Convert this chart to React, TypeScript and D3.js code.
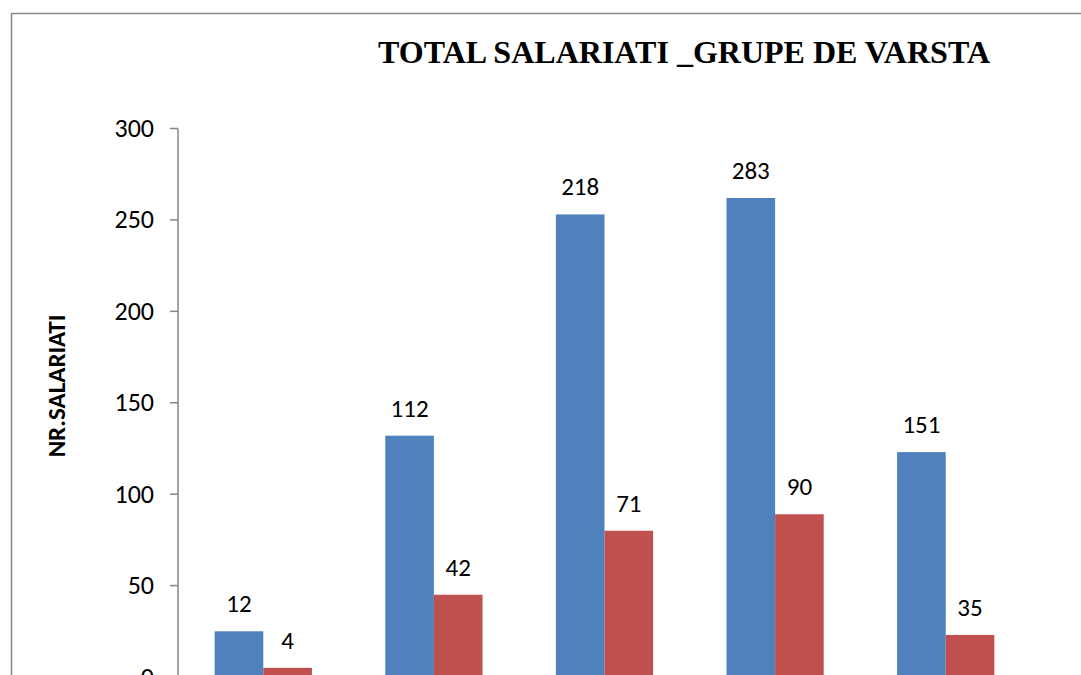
import React from 'react';
import { scaleLinear, scaleBand } from 'd3';

const CATEGORIES = ['G1', 'G2', 'G3', 'G4', 'G5'];
// bar heights as drawn in the original chart
const BLUE_HEIGHTS = [25, 132, 253, 262, 123];
const RED_HEIGHTS = [5, 45, 80, 89, 23];
// data labels shown above the bars
const BLUE_LABELS = [12, 112, 218, 283, 151];
const RED_LABELS = [4, 42, 71, 90, 35];
const TICKS = [0, 50, 100, 150, 200, 250, 300];

const BLUE = '#4F81BD';
const RED = '#C0504D';

export default function App() {
  const width = 1081;
  const height = 675;
  const left = 178;
  const right = 1031;
  const y = scaleLinear().domain([0, 300]).range([677, 128.5]);
  const x = scaleBand().domain(CATEGORIES).range([left, right]).paddingInner(0.43).paddingOuter(0.215);
  const barW = x.bandwidth() / 2;
  const font = 'Carlito, "Open Sans", "Liberation Sans", sans-serif';

  const bars = CATEGORIES.map((c, i) => {
    const x0 = x(c) as number;
    return (
      <g key={c}>
        <rect x={x0} y={y(BLUE_HEIGHTS[i])} width={barW} height={y(0) - y(BLUE_HEIGHTS[i])} fill={BLUE} />
        <rect x={x0 + barW} y={y(RED_HEIGHTS[i])} width={barW} height={y(0) - y(RED_HEIGHTS[i])} fill={RED} />
        <text x={x0 + barW / 2} y={y(BLUE_HEIGHTS[i]) - 19} textAnchor="middle" fontSize={25} fontFamily={font}>{BLUE_LABELS[i]}</text>
        <text x={x0 + barW * 1.5} y={y(RED_HEIGHTS[i]) - 19} textAnchor="middle" fontSize={25} fontFamily={font}>{RED_LABELS[i]}</text>
      </g>
    );
  });

  return (
    <svg width={width} height={height} style={{ position: 'fixed', top: 0, left: 0, background: '#fff' }}>
      <rect x={11.5} y={13.5} width={1200} height={800} fill="#fff" stroke="#898989" strokeWidth={1.5} />
      <text x={378} y={63} textLength={612} lengthAdjust="spacingAndGlyphs" fontSize={32} fontWeight="bold" fontFamily='"Liberation Serif", "Times New Roman", serif'>
        TOTAL SALARIATI _GRUPE DE VARSTA
      </text>
      <text transform="translate(65,386) rotate(-90)" textAnchor="middle" fontSize={25} fontWeight="bold" fontFamily={font}>
        NR.SALARIATI
      </text>
      <line x1={left} x2={left} y1={y(300)} y2={y(0)} stroke="#868686" strokeWidth={1.5} />
      {TICKS.map(t => (
        <g key={t}>
          <line x1={left - 8} x2={left} y1={y(t)} y2={y(t)} stroke="#868686" strokeWidth={1.5} />
          <text x={154} y={y(t) + 8.5} textAnchor="end" fontSize={26} fontFamily={font}>{t}</text>
        </g>
      ))}
      {bars}
    </svg>
  );
}
